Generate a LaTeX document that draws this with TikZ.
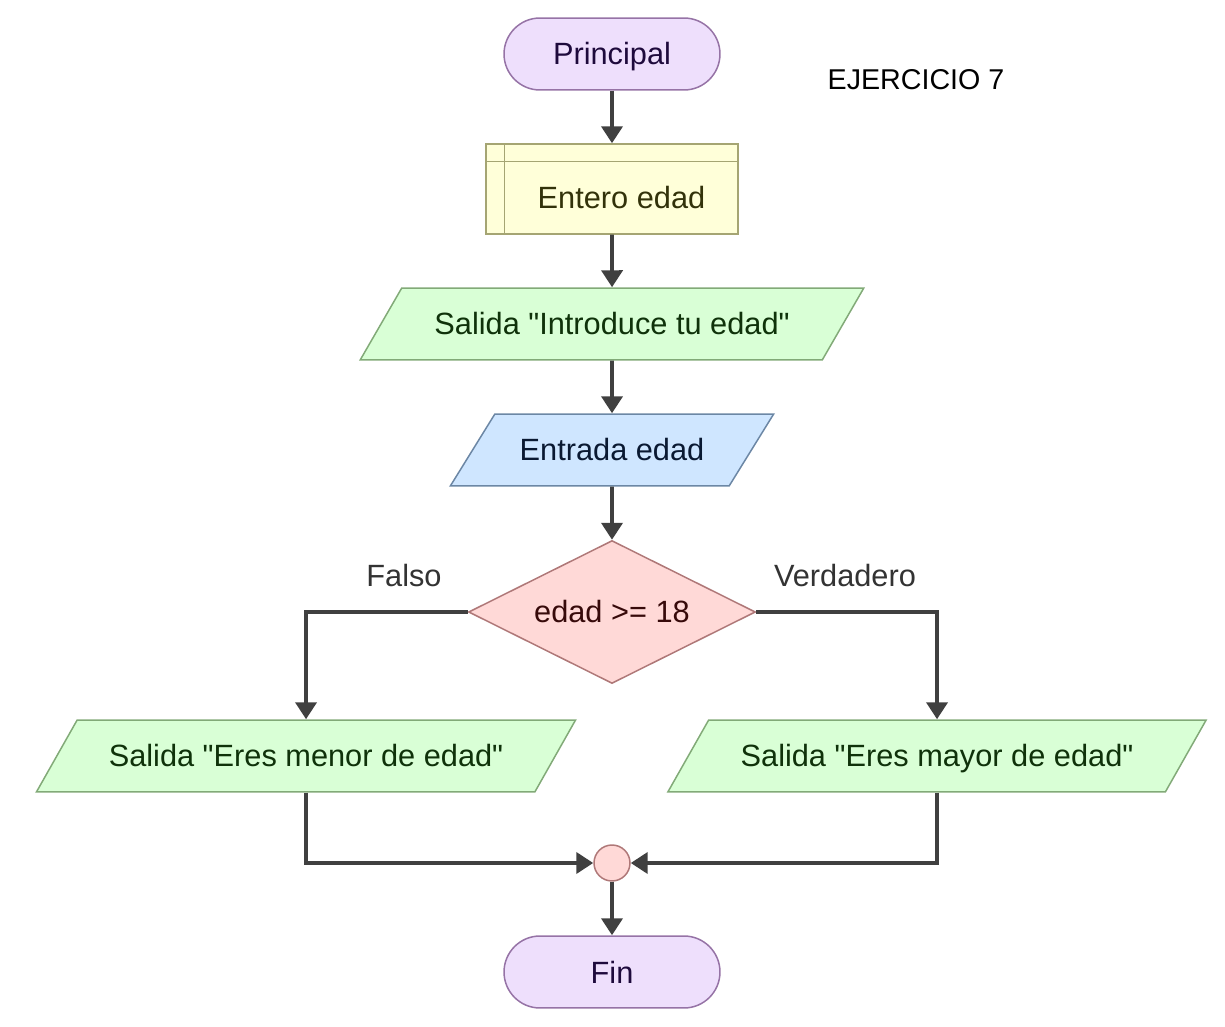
\documentclass[tikz,border=0pt]{standalone}
\usepackage{fontspec}
\setmainfont{Liberation Sans}[Ligatures=TeXOff]
\usepackage{xcolor}
\usepackage{tikz}
\usetikzlibrary{shapes.geometric,arrows.meta,positioning,calc}
\definecolor{termfill}{RGB}{238,223,252}
\definecolor{termline}{RGB}{150,115,166}
\definecolor{termtext}{RGB}{30,10,60}
\definecolor{declfill}{RGB}{255,255,217}
\definecolor{declline}{RGB}{165,165,115}
\definecolor{decltext}{RGB}{50,50,10}
\definecolor{outfill}{RGB}{217,255,214}
\definecolor{outline}{RGB}{130,170,120}
\definecolor{outtext}{RGB}{15,50,10}
\definecolor{infill}{RGB}{207,230,255}
\definecolor{inline}{RGB}{108,135,165}
\definecolor{intext}{RGB}{10,25,50}
\definecolor{decfill}{RGB}{255,217,215}
\definecolor{decline}{RGB}{175,120,120}
\definecolor{dectext}{RGB}{55,10,10}
\definecolor{arrgray}{RGB}{64,64,64}

\begin{document}
\begin{tikzpicture}[
  x=0.02cm, y=-0.02cm,
  font=\fontsize{17.5}{21}\selectfont,
  every node/.style={text height=0.44cm,text depth=0pt},
  term/.style={draw=termline,fill=termfill,text=termtext,rounded corners=0.72cm,minimum width=4.32cm,minimum height=1.44cm,line width=0.85pt},
  decl/.style={draw=declline,fill=declfill,minimum width=5.04cm,minimum height=1.8cm,line width=0.85pt},
  io/.style={trapezium,trapezium left angle=64,trapezium right angle=116,trapezium stretches=true,minimum height=1.44cm,inner xsep=0pt,inner ysep=0.5cm,line width=0.85pt},
  outp/.style={io,draw=outline,fill=outfill,text=outtext},
  inp/.style={io,draw=inline,fill=infill,text=intext},
  cond/.style={diamond,aspect=2,inner sep=0pt,minimum width=5.74cm,minimum height=2.86cm,draw=decline,fill=decfill,text=dectext,line width=0.85pt},
  joint/.style={circle,inner sep=0pt,minimum size=0.72cm,draw=decline,fill=decfill,line width=0.85pt},
  lbl/.style={text=black!80},
  arr/.style={-{Triangle[length=0.34cm,width=0.42cm]},line width=2.2pt,color=arrgray},
]
\useasboundingbox (0,0) rectangle (1225,1027);

% inicio
\node[term] (ini) at (612,54) {Principal};
\node[font=\fontsize{16.3}{19}\selectfont,text height=0.41cm] (titulo) at (916,79) {EJERCICIO 7};

% declaracion
\node[decl] (decl) at (612,189) {};
\draw[declline,line width=0.85pt] ([xshift=0.38cm]decl.north west) -- ([xshift=0.38cm]decl.south west);
\draw[declline,line width=0.85pt] ([yshift=-0.36cm]decl.north west) -- ([yshift=-0.36cm]decl.north east);
\node[text=decltext] (decltxt) at ($(decl.center)+(9.5,9)$) {Entero edad};

% salida / entrada
\node[outp,minimum width=10.1cm] (sal1) at (612,324) {Salida "Introduce tu edad"};
\node[inp,minimum width=6.48cm] (ent) at (612,450) {Entrada edad};

% decision
\node[cond] (dec) at (612,612) {edad >= 18};
\node[lbl] (falso) at (404,576) {Falso};
\node[lbl] (verd) at (845,576) {Verdadero};

% ramas
\node[outp,minimum width=10.82cm] (menor) at (306,756) {Salida "Eres menor de edad"};
\node[outp,minimum width=10.8cm] (mayor) at (937,756) {Salida "Eres mayor de edad"};

% union y fin
\node[joint] (union) at (612,863) {};
\node[term] (fin) at (612,972) {Fin};

% conexiones
\draw[arr] (ini) -- (decl);
\draw[arr] (decl) -- (sal1);
\draw[arr] (sal1) -- (ent);
\draw[arr] (ent) -- (dec);
\draw[arr] (dec.west) -| (menor.north);
\draw[arr] (dec.east) -| (mayor.north);
\draw[arr] (menor.south) |- (union.west);
\draw[arr] (mayor.south) |- (union.east);
\draw[arr] (union) -- (fin);

\end{tikzpicture}
\end{document}
